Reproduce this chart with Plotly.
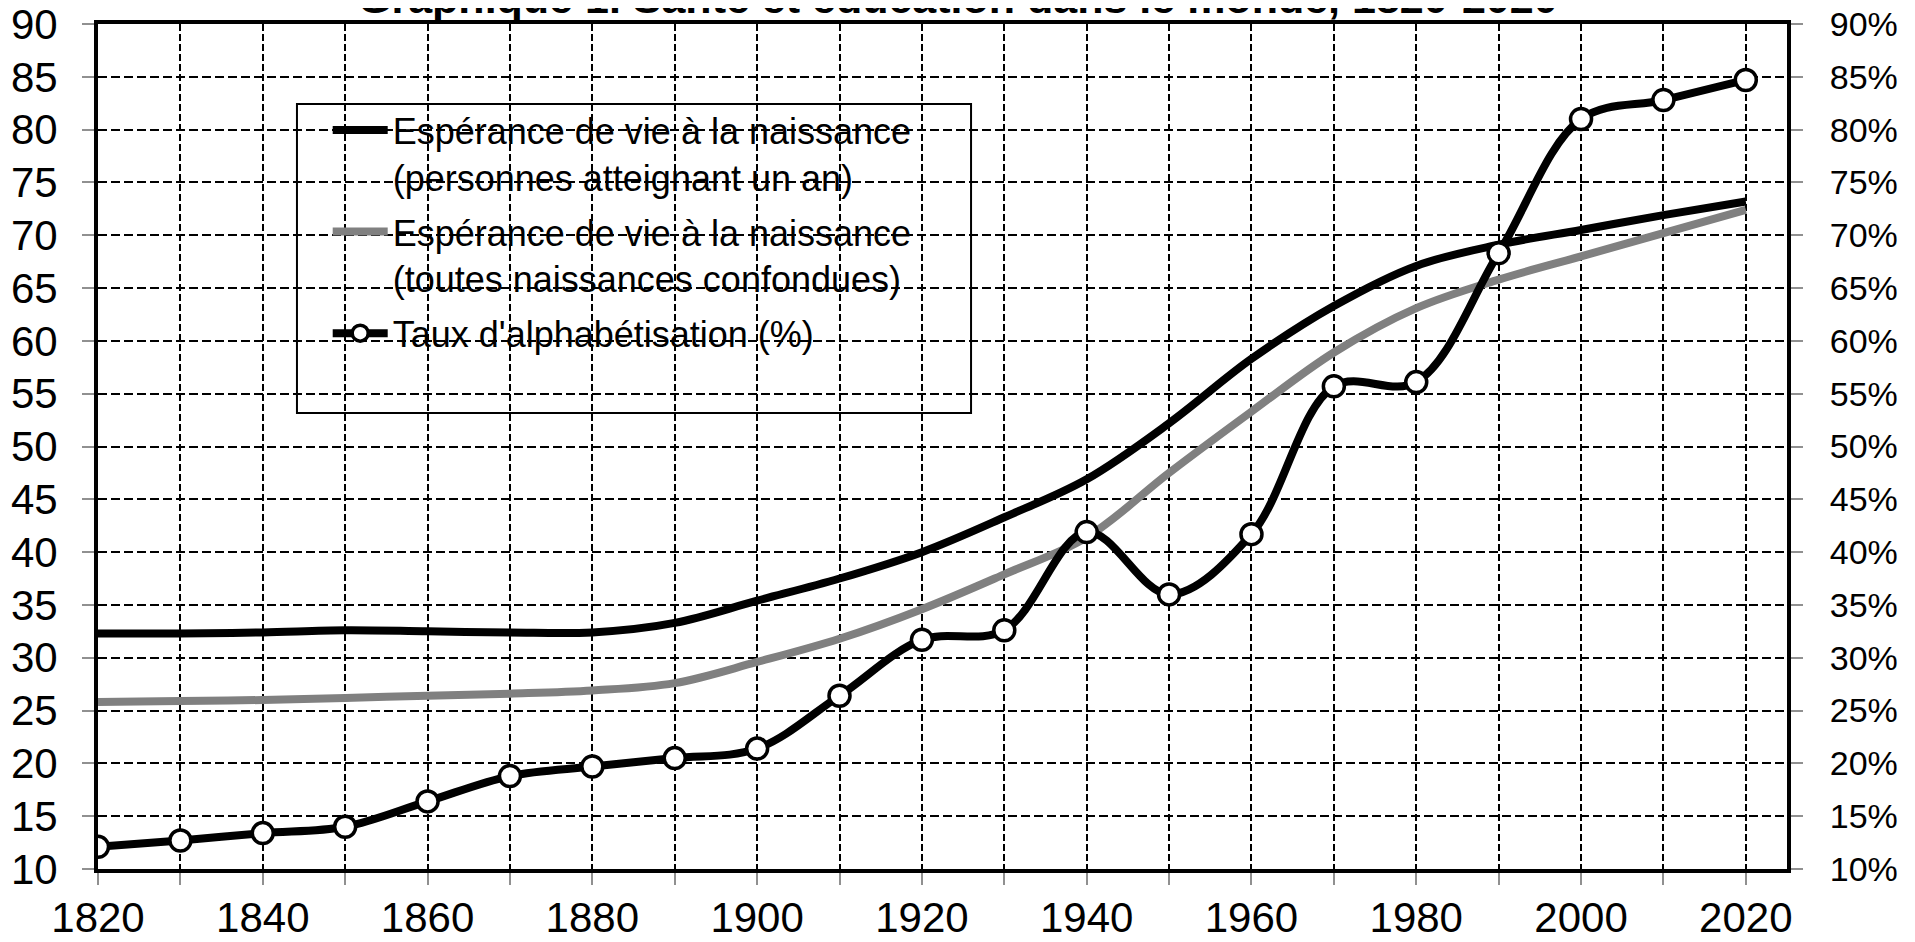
import plotly.graph_objects as go

# Data
years = [1820, 1830, 1840, 1850, 1860, 1870, 1880, 1890, 1900, 1910, 1920,
         1930, 1940, 1950, 1960, 1970, 1980, 1990, 2000, 2010, 2020]

life_exp_age1 = [32.3, 32.3, 32.4, 32.6, 32.5, 32.4, 32.4, 33.3, 35.4, 37.5, 40.0,
                 43.3, 46.9, 52.2, 58.3, 63.3, 67.1, 69.1, 70.5, 71.9, 73.2]

life_exp_all = [25.8, 25.9, 26.0, 26.2, 26.4, 26.6, 26.9, 27.6, 29.6, 31.8, 34.6,
                37.9, 41.4, 47.5, 53.3, 58.9, 63.1, 65.8, 68.0, 70.2, 72.4]

literacy = [12.1, 12.7, 13.4, 14.0, 16.4, 18.8, 19.7, 20.5, 21.4, 26.4, 31.7,
            32.6, 41.9, 36.0, 41.7, 55.7, 56.1, 68.3, 81.0, 82.8, 84.7]

x_ticks = years
x_labels = [str(y) if y % 20 == 0 else "" for y in years]
y_ticks = list(range(10, 95, 5))
y_labels = [str(v) for v in y_ticks]
y2_labels = [f"{v}%" for v in y_ticks]

title = "Graphique 1. Santé et éducation dans le monde, 1820-2020"
names = [
    "Espérance de vie à la naissance<br>(personnes atteignant un an)",
    "Espérance de vie à la naissance<br>(toutes naissances confondues)",
    "Taux d'alphabétisation (%)",
]

FONT = "Liberation Sans, Arial, sans-serif"

fig = go.Figure()

fig.add_trace(go.Scatter(
    x=years, y=life_exp_age1, name=names[0], mode="lines",
    line=dict(color="black", width=8, shape="spline"),
    legendgroup="a",
))
fig.add_trace(go.Scatter(
    x=years, y=life_exp_all, name=names[1], mode="lines",
    line=dict(color="#808080", width=8, shape="spline"),
    legendgroup="b",
))
fig.add_trace(go.Scatter(
    x=years, y=literacy, name=names[2], mode="lines+markers",
    line=dict(color="black", width=8, shape="spline"),
    marker=dict(size=21, color="white", line=dict(color="black", width=3.5)),
    yaxis="y2", legendgroup="c",
))

# legend frame (white box over the grid)
fig.add_shape(
    type="rect", xref="paper", yref="paper",
    x0=0.1178, x1=0.5169, y0=0.5396, y1=0.9053,
    fillcolor="white", line=dict(color="black", width=2), layer="between",
)

fig.add_annotation(
    text=f"<b>{title}</b>", xref="paper", yref="paper",
    x=0.509, y=1.0, yanchor="bottom", xanchor="center",
    showarrow=False, font=dict(size=43, color="black", family=FONT),
)

tick_style = dict(
    ticks="outside", ticklen=12, tickcolor="#909090", tickwidth=2,
    zeroline=False, automargin=False, ticklabeloverflow="allow",
)

# the page body has an 8px margin, so the figure is sized to fit the window
fig.update_layout(
    width=1907, height=934,
    margin=dict(l=90, r=128, t=16, b=73),
    plot_bgcolor="white", paper_bgcolor="white",
    font=dict(family=FONT, size=42, color="black"),
    showlegend=True,
    legend=dict(
        x=0.136, y=0.91, xanchor="left", yanchor="top",
        bgcolor="rgba(0,0,0,0)", borderwidth=0,
        font=dict(size=36, family=FONT), itemwidth=55,
        valign="top", traceorder="grouped", tracegroupgap=5,
    ),
    xaxis=dict(
        range=[1820, 2025], tickvals=x_ticks, ticktext=x_labels,
        showgrid=True, gridcolor="black", gridwidth=2, griddash="7px,3px",
        showline=True, linecolor="black", linewidth=4, mirror=True,
        ticklabelstandoff=-3, tickfont=dict(size=42), **tick_style,
    ),
    yaxis=dict(
        range=[10, 90], tickvals=y_ticks, ticktext=y_labels,
        showgrid=True, gridcolor="black", gridwidth=2, griddash="9px,4px",
        showline=True, linecolor="black", linewidth=4, mirror=True,
        ticklabelstandoff=16, tickfont=dict(size=42), **tick_style,
    ),
    yaxis2=dict(
        range=[10, 90], tickvals=y_ticks, ticktext=y2_labels,
        overlaying="y", side="right", showgrid=False,
        showline=True, linecolor="black", linewidth=4,
        ticklabelstandoff=20, tickfont=dict(size=34), **tick_style,
    ),
)

fig.write_html("out.html")
